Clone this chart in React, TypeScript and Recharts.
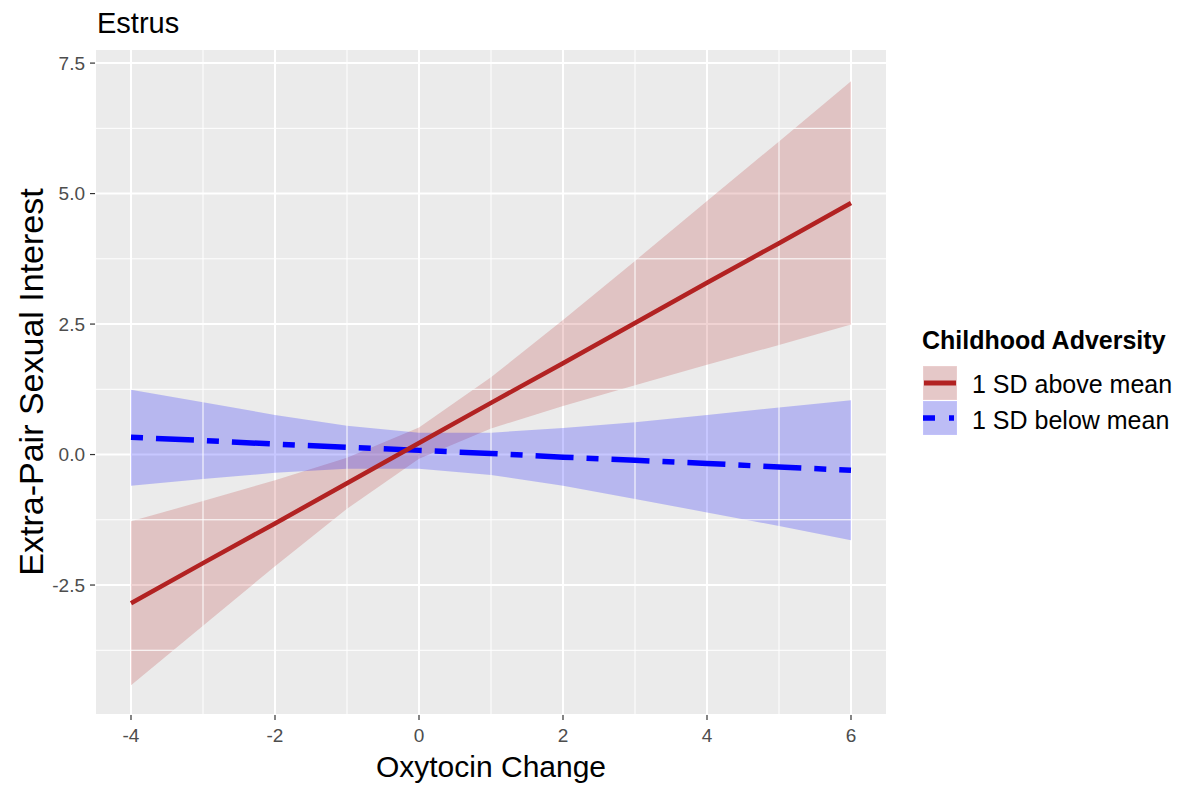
import React from 'react';
import { ComposedChart, Area, Line, XAxis, YAxis, CartesianGrid, ReferenceLine, Label } from 'recharts';

const xValues = [-4, -3, -2, -1, 0, 1, 2, 3, 4, 5, 6];
const aboveFit = [-2.85, -2.08, -1.32, -0.55, 0.22, 0.99, 1.75, 2.52, 3.29, 4.05, 4.82];
const aboveLower = [-4.42, -3.28, -2.14, -1.04, -0.08, 0.5, 0.93, 1.33, 1.72, 2.1, 2.49];
const aboveUpper = [-1.28, -0.89, -0.49, -0.06, 0.52, 1.48, 2.58, 3.71, 4.86, 6.0, 7.15];
const belowFit = [0.33, 0.27, 0.2, 0.14, 0.08, 0.02, -0.05, -0.11, -0.17, -0.24, -0.3];
const belowLower = [-0.6, -0.47, -0.35, -0.27, -0.27, -0.39, -0.6, -0.85, -1.11, -1.37, -1.64];
const belowUpper = [1.24, 1.0, 0.76, 0.55, 0.42, 0.42, 0.51, 0.62, 0.76, 0.9, 1.04];

const xTicks = [-4, -2, 0, 2, 4, 6];
const xMinor = [-3, -1, 1, 3, 5];
const yTicks = [-2.5, 0, 2.5, 5, 7.5];
const yMinor = [-3.75, -1.25, 1.25, 3.75, 6.25];

const titleText = 'Estrus';
const xTitle = 'Oxytocin Change';
const yTitle = 'Extra-Pair Sexual Interest';
const legendTitle = 'Childhood Adversity';
const seriesNames = ['1 SD above mean', '1 SD below mean'];

const data = xValues.map((x, i) => ({
  x,
  aboveFit: aboveFit[i],
  aboveBand: [aboveLower[i], aboveUpper[i]],
  belowFit: belowFit[i],
  belowBand: [belowLower[i], belowUpper[i]],
}));

const FONT = '"Liberation Sans", Arial, sans-serif';
const RED = '#B22222';
const BLUE = '#0000FF';

export default function App() {
  return (
    <div style={{ position: 'absolute', left: 0, top: 0, width: 1180, height: 787, background: '#FFFFFF', fontFamily: FONT }}>
      <ComposedChart
        width={1180}
        height={787}
        data={data}
        margin={{ top: 49, right: 293, bottom: 0, left: 0 }}
        style={{ fontFamily: FONT }}
      >
        <CartesianGrid fill="#EBEBEB" stroke="#FFFFFF" strokeWidth={2} />
        {xMinor.map((v) => (
          <ReferenceLine key={'xm' + v} x={v} stroke="#FFFFFF" strokeWidth={1} />
        ))}
        {yMinor.map((v) => (
          <ReferenceLine key={'ym' + v} y={v} stroke="#FFFFFF" strokeWidth={1} />
        ))}
        <XAxis
          dataKey="x"
          type="number"
          domain={[-4.5, 6.5]}
          ticks={xTicks}
          allowDataOverflow
          height={72}
          axisLine={false}
          tickLine={{ stroke: '#333333', strokeWidth: 1.2 }}
          tickSize={5}
          tickMargin={9}
          tick={{ fill: '#4D4D4D', fontSize: 19, fontFamily: FONT }}
        >
          <Label
            content={(props: any) => {
              const vb = props.viewBox || { x: 95, y: 715, width: 792 };
              return (
                <text x={vb.x + vb.width / 2} y={vb.y + 62} textAnchor="middle" fill="#000000" fontSize={30} fontFamily={FONT}>
                  {xTitle}
                </text>
              );
            }}
          />
        </XAxis>
        <YAxis
          type="number"
          domain={[-4.99, 7.77]}
          ticks={yTicks}
          allowDataOverflow
          width={95}
          axisLine={false}
          tickLine={{ stroke: '#333333', strokeWidth: 1.2 }}
          tickSize={5}
          tickMargin={5}
          tickFormatter={(v: number) => v.toFixed(1)}
          tick={{ fill: '#4D4D4D', fontSize: 19, fontFamily: FONT }}
        >
          <Label
            content={(props: any) => {
              const vb = props.viewBox || { x: 0, y: 49, width: 95, height: 666 };
              const cx = vb.x + 43;
              const cy = vb.y + vb.height / 2;
              return (
                <text x={cx} y={cy} textAnchor="middle" transform={`rotate(-90 ${cx} ${cy})`} fill="#000000" fontSize={34} fontFamily={FONT}>
                  {yTitle}
                </text>
              );
            }}
          />
        </YAxis>
        <Area
          type="linear"
          dataKey="aboveBand"
          stroke="none"
          fill={RED}
          fillOpacity={0.2}
          isAnimationActive={false}
          activeDot={false}
        />
        <Area
          type="linear"
          dataKey="belowBand"
          stroke="none"
          fill={BLUE}
          fillOpacity={0.22}
          isAnimationActive={false}
          activeDot={false}
        />
        <Line
          type="linear"
          dataKey="belowFit"
          stroke={BLUE}
          strokeWidth={5.5}
          strokeDasharray="12 13 38 13"
          dot={false}
          activeDot={false}
          isAnimationActive={false}
        />
        <Line
          type="linear"
          dataKey="aboveFit"
          stroke={RED}
          strokeWidth={4.5}
          dot={false}
          activeDot={false}
          isAnimationActive={false}
        />
      </ComposedChart>
      <svg width={1180} height={787} style={{ position: 'absolute', left: 0, top: 0, pointerEvents: 'none' }}>
        <text x={97} y={33} fontSize={29} fill="#000000" fontFamily={FONT}>{titleText}</text>
        <text x={922} y={349} fontSize={25} fontWeight="bold" fill="#000000" fontFamily={FONT}>{legendTitle}</text>
        <rect x={923} y={366} width={34} height={34} fill="#F2F2F2" stroke="#FFFFFF" strokeWidth={1} />
        <rect x={923} y={366} width={34} height={34} fill={RED} fillOpacity={0.2} />
        <line x1={924} x2={956} y1={383} y2={383} stroke={RED} strokeWidth={5} />
        <rect x={923} y={401} width={34} height={34} fill="#F2F2F2" stroke="#FFFFFF" strokeWidth={1} />
        <rect x={923} y={401} width={34} height={34} fill={BLUE} fillOpacity={0.22} />
        <line x1={923} x2={957} y1={418} y2={418} stroke={BLUE} strokeWidth={5.5} strokeDasharray="12 14 5 14" />
        <text x={972} y={393} fontSize={25} fill="#000000" fontFamily={FONT}>{seriesNames[0]}</text>
        <text x={972} y={429} fontSize={25} fill="#000000" fontFamily={FONT}>{seriesNames[1]}</text>
      </svg>
    </div>
  );
}
